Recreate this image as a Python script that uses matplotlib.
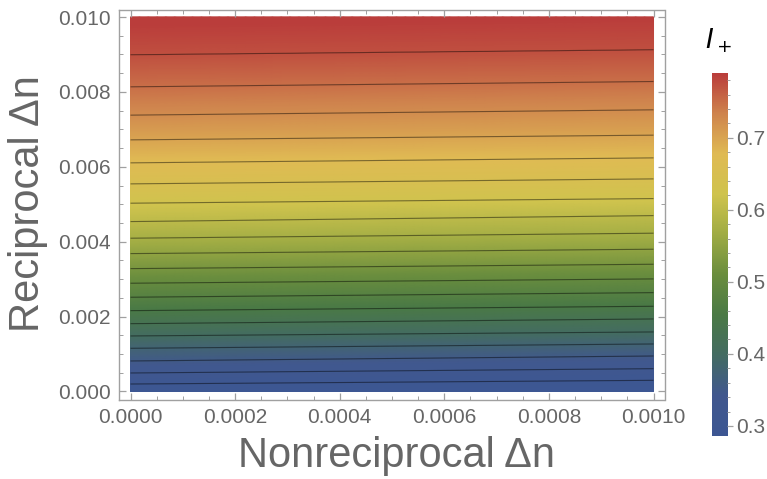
import numpy as np
import matplotlib
matplotlib.use("Agg")
import matplotlib.pyplot as plt
from matplotlib.colors import LinearSegmentedColormap
from matplotlib.ticker import MultipleLocator

plt.rcParams['font.family'] = ['Liberation Sans', 'DejaVu Sans']

# Contour levels of I+ and where each crosses the left (x=0) and right (x=0.001) edges
levels = [0.300, 0.325, 0.350, 0.375, 0.400, 0.425, 0.450, 0.475, 0.500, 0.525,
          0.550, 0.575, 0.600, 0.625, 0.650, 0.675, 0.700, 0.725, 0.750, 0.775]
y_left = [0.000200, 0.000494, 0.000815, 0.001154, 0.001483, 0.001811, 0.002159,
          0.002517, 0.002891, 0.003281, 0.003682, 0.004093, 0.004537, 0.005028,
          0.005544, 0.006105, 0.006719, 0.007379, 0.008135, 0.008990]
y_right = [0.000299, 0.000609, 0.000948, 0.001269, 0.001590, 0.001937, 0.002276,
           0.002640, 0.003006, 0.003398, 0.003799, 0.004227, 0.004697, 0.005151,
           0.005677, 0.006238, 0.006845, 0.007521, 0.008277, 0.009124]
# I+ at the bottom (y=0) and top (y=0.01) edges, left and right
edge_bottom = [0.284, 0.278]
edge_top = [0.793, 0.790]

x_range = [0.0, 0.001]
y_range = [0.0, 0.01]
cbar_range = [0.286, 0.790]

# DarkRainbow-style gradient
dark_rainbow = [
    (0.237736, 0.340215, 0.575113),
    (0.253651, 0.344893, 0.558151),
    (0.264425, 0.423024, 0.384900),
    (0.291469, 0.477170, 0.271411),
    (0.416394, 0.555345, 0.241820),
    (0.624866, 0.673302, 0.264296),
    (0.813033, 0.766292, 0.303458),
    (0.877875, 0.731045, 0.326896),
    (0.812807, 0.518694, 0.303459),
    (0.729870, 0.239399, 0.230961),
]
cmap = LinearSegmentedColormap.from_list("dark_rainbow", dark_rainbow, N=512)

# Build the I+ field on a grid from the edge crossings
nx, ny = 60, 600
xs = np.linspace(x_range[0], x_range[1], nx)
ys = np.linspace(y_range[0], y_range[1], ny)
Z = np.empty((ny, nx))
yl = np.array(y_left)
yr = np.array(y_right)
for j, xv in enumerate(xs):
    t = (xv - x_range[0]) / (x_range[1] - x_range[0])
    ypos = np.concatenate([[y_range[0]], (1 - t) * yl + t * yr, [y_range[1]]])
    vals = np.concatenate([[(1 - t) * edge_bottom[0] + t * edge_bottom[1]],
                           levels,
                           [(1 - t) * edge_top[0] + t * edge_top[1]]])
    Z[:, j] = np.interp(ys, ypos, vals)

W, H = 767, 479
fig = plt.figure(figsize=(W / 100, H / 100), dpi=100)

def fx(px):
    return px / W

def fy(py):
    return 1 - py / H

ax = fig.add_axes([fx(119), fy(400), fx(664.5) - fx(119), fy(10) - fy(400)])
X, Y = np.meshgrid(xs, ys)
ax.pcolormesh(X, Y, Z, cmap=cmap, vmin=cbar_range[0], vmax=cbar_range[1],
              shading='gouraud', rasterized=True)
ax.contour(X, Y, Z, levels=levels, colors='black', linewidths=0.8, alpha=0.45)

ax.set_xlim(-0.000022, 0.001021)
ax.set_ylim(-0.000227, 0.010187)

frame_col = '#a0a0a0'
label_col = '#666666'
for s in ax.spines.values():
    s.set_color(frame_col)
    s.set_linewidth(1.0)

ax.xaxis.set_major_locator(MultipleLocator(0.0002))
ax.xaxis.set_minor_locator(MultipleLocator(0.00005))
ax.yaxis.set_major_locator(MultipleLocator(0.002))
ax.yaxis.set_minor_locator(MultipleLocator(0.0005))
ax.xaxis.set_major_formatter(plt.FuncFormatter(lambda v, p: f"{v:.4f}"))
ax.yaxis.set_major_formatter(plt.FuncFormatter(lambda v, p: f"{v:.3f}"))
ax.tick_params(which='both', direction='in', top=True, right=True,
               color=frame_col, labelcolor=label_col, labelsize=15)
ax.tick_params(which='major', length=5, width=0.9, pad=6)
ax.tick_params(which='minor', length=3, width=0.7)

fig.text(fx(396), fy(456), "Nonreciprocal \u0394n", ha='center', va='center',
         fontsize=30, color=label_col)
fig.text(fx(28), fy(204), "Reciprocal \u0394n", ha='center', va='center',
         rotation=90, fontsize=30, color=label_col)

# Colour bar
cax = fig.add_axes([fx(711.7), fy(436), fx(727.3) - fx(711.7), fy(73) - fy(436)])
grad = np.linspace(cbar_range[0], cbar_range[1], 400).reshape(-1, 1)
cax.imshow(grad, aspect='auto', origin='lower', cmap=cmap,
           vmin=cbar_range[0], vmax=cbar_range[1],
           extent=[0, 1, cbar_range[0], cbar_range[1]])
cax.set_xlim(0, 1)
cax.set_ylim(cbar_range[0], cbar_range[1])
cax.set_xticks([])
cax.yaxis.tick_right()
cax.yaxis.set_major_locator(MultipleLocator(0.1))
cax.yaxis.set_minor_locator(MultipleLocator(0.02))
cax.yaxis.set_major_formatter(plt.FuncFormatter(lambda v, p: f"{v:.1f}"))
cax.tick_params(which='both', direction='out', color=frame_col,
                labelcolor=label_col, labelsize=15)
cax.tick_params(which='major', length=4, width=0.9, pad=2)
cax.tick_params(which='minor', length=2.5, width=0.7)
for s in cax.spines.values():
    s.set_visible(False)

fig.text(fx(719), fy(41), r"$I_+$", ha='center', va='center', fontsize=19,
         color='black')

fig.savefig("out.png", dpi=100)
